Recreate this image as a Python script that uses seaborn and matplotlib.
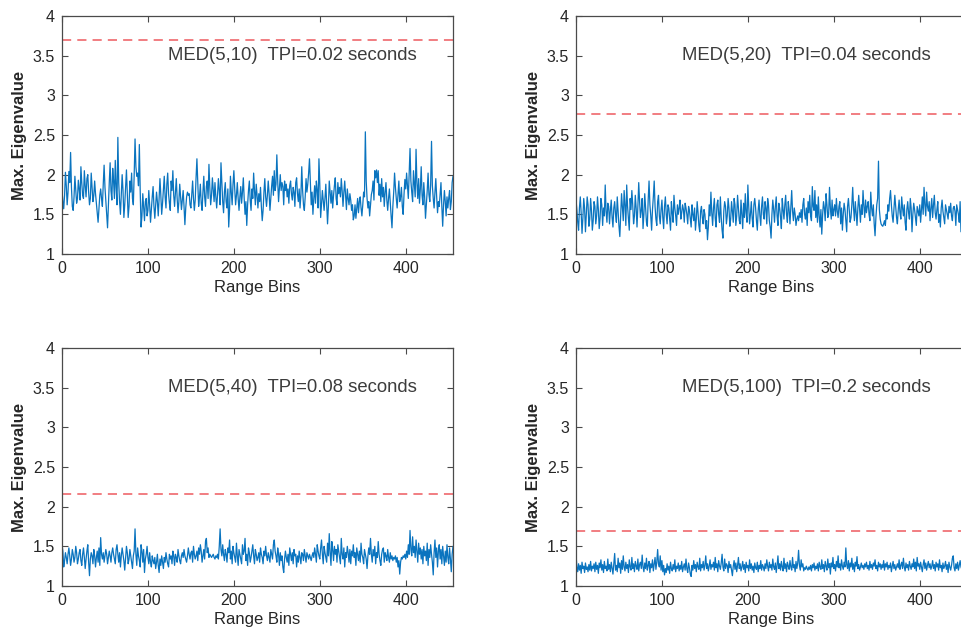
import numpy as np
import pandas as pd
import matplotlib
matplotlib.use("Agg")
import matplotlib.pyplot as plt
import seaborn as sns

# Maximum eigenvalue per range bin for four MED(M,N) configurations
eig_med_5_10 = [
    1.80, 1.66, 1.57, 1.74, 2.03, 1.86, 1.62, 1.78, 2.04, 1.90, 2.28, 1.84, 1.60, 1.55, 1.72, 1.98, 1.80, 1.64, 1.70, 1.93,
    1.82, 1.68, 2.10, 1.90, 1.74, 1.70, 2.05, 1.86, 1.72, 1.95, 2.00, 1.78, 1.62, 1.70, 2.02, 1.84, 1.66, 1.74, 1.92, 1.76,
    1.64, 1.52, 1.40, 1.56, 1.74, 1.82, 1.70, 1.60, 1.88, 2.12, 1.84, 1.66, 1.50, 1.33, 1.62, 1.90, 2.15, 1.80, 1.68, 2.08,
    1.92, 1.70, 2.18, 1.84, 1.62, 2.47, 1.90, 1.66, 1.50, 1.76, 2.00, 1.80, 1.46, 1.62, 1.85, 2.06, 1.74, 1.46, 1.60, 1.92,
    1.78, 2.02, 1.70, 1.62, 2.00, 2.45, 2.10, 1.98, 2.02, 1.86, 2.38, 1.80, 1.34, 1.48, 1.76, 1.58, 1.42, 1.66, 1.70, 1.48,
    1.55, 1.80, 1.62, 1.40, 1.56, 1.72, 1.85, 1.60, 1.45, 1.62, 1.78, 1.66, 1.48, 1.70, 1.95, 1.74, 1.50, 1.64, 1.82, 1.98,
    1.72, 1.58, 1.88, 2.02, 1.76, 1.64, 1.55, 1.92, 1.80, 2.05, 1.74, 1.60, 1.78, 1.95, 1.70, 1.52, 1.66, 1.88, 1.72, 1.56,
    1.68, 1.80, 1.60, 1.37, 1.58, 1.72, 1.78, 1.74, 1.76, 1.62, 1.58, 1.75, 1.92, 1.70, 1.55, 1.68, 1.96, 2.20, 1.88, 1.60,
    1.72, 1.88, 1.64, 1.55, 1.78, 1.98, 1.72, 1.60, 1.85, 1.92, 1.70, 2.13, 1.84, 1.62, 1.74, 1.96, 1.80, 1.66, 1.90, 1.72,
    1.58, 1.75, 1.95, 1.80, 1.62, 2.15, 1.90, 1.66, 1.52, 1.78, 1.90, 1.66, 1.58, 1.82, 1.34, 1.56, 1.98, 1.78, 1.62, 1.88,
    2.05, 1.82, 1.62, 1.74, 1.90, 1.70, 1.55, 1.72, 1.85, 1.64, 1.78, 1.96, 1.70, 1.50, 1.66, 1.36, 1.62, 1.80, 1.92, 1.68,
    1.55, 1.82, 1.70, 2.02, 1.80, 1.62, 1.88, 1.74, 1.58, 1.76, 1.66, 1.84, 1.60, 1.42, 1.55, 1.78, 1.95, 1.72, 1.60, 1.74,
    1.92, 1.76, 1.55, 1.70, 1.86, 1.98, 1.74, 2.05, 1.80, 1.88, 2.25, 1.92, 1.66, 1.82, 2.00, 1.80, 1.90, 1.85, 1.62, 1.92,
    1.80, 1.88, 1.72, 1.82, 1.64, 1.86, 1.92, 1.76, 1.68, 1.84, 1.78, 1.60, 1.90, 1.96, 1.76, 1.66, 1.82, 1.58, 1.74, 2.10,
    1.80, 1.62, 1.55, 1.72, 1.95, 1.78, 1.88, 2.02, 2.20, 1.90, 1.62, 1.78, 1.50, 1.70, 1.86, 1.64, 1.92, 1.80, 1.58, 2.20,
    1.88, 1.46, 1.62, 1.80, 1.68, 1.55, 1.70, 1.88, 1.62, 1.38, 1.60, 1.92, 1.78, 1.64, 1.80, 1.58, 1.74, 1.86, 1.96, 1.70,
    1.62, 1.90, 1.76, 1.84, 1.72, 1.95, 1.80, 1.60, 1.78, 1.92, 1.74, 1.56, 1.82, 1.70, 1.62, 1.76, 1.68, 1.55, 1.62, 1.43,
    1.48, 1.62, 1.45, 1.58, 1.70, 1.52, 1.66, 1.72, 1.58, 1.48, 1.62, 1.78, 1.72, 2.54, 1.92, 1.70, 1.58, 1.66, 1.48, 1.62,
    1.75, 1.80, 1.92, 1.68, 2.05, 1.96, 2.06, 1.90, 2.05, 1.74, 1.88, 1.66, 1.95, 1.72, 1.84, 1.60, 1.78, 1.90, 1.68, 1.55,
    1.70, 1.82, 1.64, 1.48, 1.33, 1.60, 1.78, 2.02, 1.84, 1.70, 1.58, 1.76, 1.92, 1.66, 1.72, 1.84, 1.60, 1.50, 1.75, 1.94,
    1.82, 2.02, 1.86, 1.70, 2.00, 2.33, 1.92, 1.78, 1.66, 2.05, 1.88, 1.72, 2.32, 1.90, 1.70, 1.95, 1.64, 1.82, 2.10, 1.74,
    1.62, 1.90, 1.72, 1.45, 1.62, 1.80, 2.02, 1.75, 1.66, 1.88, 2.42, 1.86, 1.70, 1.58, 1.78, 1.95, 1.72, 1.52, 1.66, 1.60,
    1.75, 1.90, 1.60, 1.35, 1.62, 1.80, 1.66, 1.48, 1.72, 1.58, 1.70, 1.80, 1.56, 1.66, 1.90, 1.98,
]

eig_med_5_20 = [
    1.68, 1.56, 1.40, 1.30, 1.58, 1.72, 1.52, 1.26, 1.45, 1.70, 1.58, 1.28, 1.50, 1.72, 1.62, 1.35, 1.44, 1.70, 1.55, 1.30,
    1.42, 1.66, 1.60, 1.38, 1.48, 1.72, 1.56, 1.32, 1.45, 1.70, 1.62, 1.36, 1.58, 1.48, 1.87, 1.54, 1.40, 1.64, 1.60, 1.38,
    1.55, 1.68, 1.46, 1.34, 1.58, 1.66, 1.50, 1.40, 1.72, 1.54, 1.35, 1.22, 1.48, 1.76, 1.58, 1.42, 1.80, 1.62, 1.36, 1.87,
    1.60, 1.44, 1.30, 1.70, 1.56, 1.80, 1.62, 1.38, 1.48, 1.74, 1.58, 1.34, 1.60, 1.90, 1.66, 1.46, 1.55, 1.70, 1.32, 1.50,
    1.76, 1.58, 1.40, 1.35, 1.68, 1.92, 1.62, 1.48, 1.30, 1.56, 1.72, 1.92, 1.60, 1.44, 1.36, 1.66, 1.74, 1.48, 1.38, 1.56,
    1.68, 1.46, 1.32, 1.60, 1.72, 1.50, 1.38, 1.62, 1.58, 1.44, 1.30, 1.66, 1.52, 1.40, 1.74, 1.58, 1.48, 1.36, 1.62, 1.50,
    1.58, 1.68, 1.44, 1.52, 1.62, 1.56, 1.40, 1.64, 1.58, 1.50, 1.38, 1.60, 1.55, 1.45, 1.34, 1.62, 1.50, 1.42, 1.58, 1.30,
    1.44, 1.66, 1.52, 1.36, 1.28, 1.54, 1.60, 1.46, 1.38, 1.56, 1.50, 1.32, 1.42, 1.18, 1.34, 1.62, 1.48, 1.78, 1.52, 1.36,
    1.58, 1.70, 1.45, 1.34, 1.62, 1.68, 1.50, 1.40, 1.72, 1.46, 1.30, 1.20, 1.54, 1.66, 1.60, 1.38, 1.48, 1.70, 1.58, 1.35,
    1.44, 1.66, 1.54, 1.40, 1.70, 1.62, 1.36, 1.48, 1.74, 1.58, 1.42, 1.38, 1.68, 1.50, 1.32, 1.64, 1.46, 1.76, 1.52, 1.40,
    1.87, 1.60, 1.38, 1.50, 1.66, 1.45, 1.34, 1.62, 1.70, 1.58, 1.42, 1.30, 1.55, 1.68, 1.48, 1.36, 1.60, 1.72, 1.50, 1.44,
    1.66, 1.58, 1.38, 1.70, 1.62, 1.42, 1.34, 1.20, 1.50, 1.68, 1.56, 1.40, 1.60, 1.72, 1.48, 1.36, 1.64, 1.58, 1.46, 1.32,
    1.70, 1.56, 1.44, 1.62, 1.74, 1.50, 1.40, 1.66, 1.56, 1.38, 1.60, 1.80, 1.54, 1.42, 1.58, 1.50, 1.36, 1.44, 1.48, 1.42,
    1.52, 1.46, 1.56, 1.40, 1.62, 1.70, 1.50, 1.44, 1.58, 1.36, 1.66, 1.52, 1.74, 1.48, 1.42, 1.85, 1.60, 1.55, 1.80, 1.46,
    1.62, 1.40, 1.72, 1.48, 1.34, 1.56, 1.25, 1.50, 1.66, 1.58, 1.42, 1.76, 1.62, 1.46, 1.50, 1.84, 1.58, 1.44, 1.68, 1.48,
    1.56, 1.62, 1.48, 1.70, 1.54, 1.46, 1.60, 1.66, 1.38, 1.58, 1.30, 1.50, 1.64, 1.56, 1.42, 1.28, 1.60, 1.70, 1.54, 1.40,
    1.46, 1.62, 1.84, 1.58, 1.42, 1.66, 1.52, 1.36, 1.58, 1.74, 1.56, 1.40, 1.62, 1.50, 1.80, 1.60, 1.46, 1.68, 1.52, 1.60,
    1.66, 1.50, 1.42, 1.78, 1.58, 1.48, 1.62, 1.38, 1.23, 1.46, 1.62, 1.70, 2.17, 1.56, 1.44, 1.38, 1.36, 1.35, 1.38, 1.42,
    1.36, 1.50, 1.44, 1.62, 1.54, 1.70, 1.80, 1.62, 1.48, 1.40, 1.58, 1.74, 1.60, 1.46, 1.38, 1.56, 1.68, 1.52, 1.44, 1.72,
    1.58, 1.48, 1.62, 1.40, 1.30, 1.56, 1.66, 1.52, 1.44, 1.70, 1.58, 1.28, 1.50, 1.64, 1.56, 1.46, 1.36, 1.60, 1.54, 1.48,
    1.62, 1.40, 1.56, 1.72, 1.50, 1.84, 1.62, 1.48, 1.78, 1.60, 1.54, 1.66, 1.42, 1.58, 1.70, 1.46, 1.62, 1.74, 1.52, 1.44,
    1.56, 1.66, 1.40, 1.50, 1.34, 1.58, 1.68, 1.54, 1.46, 1.38, 1.62, 1.56, 1.50, 1.44, 1.60, 1.52, 1.64, 1.48, 1.42, 1.58,
    1.60, 1.54, 1.36, 1.62, 1.56, 1.50, 1.40, 1.66, 1.28, 1.62, 1.56, 1.48, 1.40, 1.64, 1.30, 1.58,
]

eig_med_5_40 = [
    1.52, 1.44, 1.24, 1.32, 1.42, 1.36, 1.28, 1.40, 1.48, 1.38, 1.26, 1.34, 1.46, 1.40, 1.30, 1.36, 1.50, 1.42, 1.28, 1.34,
    1.42, 1.46, 1.32, 1.26, 1.40, 1.48, 1.36, 1.22, 1.34, 1.44, 1.52, 1.30, 1.13, 1.34, 1.42, 1.38, 1.28, 1.46, 1.38, 1.24,
    1.36, 1.44, 1.30, 1.48, 1.26, 1.61, 1.40, 1.34, 1.42, 1.30, 1.38, 1.46, 1.40, 1.28, 1.36, 1.44, 1.38, 1.30, 1.42, 1.48,
    1.40, 1.34, 1.28, 1.46, 1.52, 1.40, 1.30, 1.42, 1.24, 1.38, 1.48, 1.40, 1.32, 1.20, 1.36, 1.50, 1.42, 1.28, 1.34, 1.46,
    1.38, 1.30, 1.22, 1.38, 1.44, 1.72, 1.40, 1.26, 1.48, 1.38, 1.32, 1.24, 1.52, 1.44, 1.30, 1.46, 1.17, 1.34, 1.40, 1.50,
    1.36, 1.28, 1.42, 1.30, 1.24, 1.38, 1.32, 1.28, 1.36, 1.22, 1.30, 1.40, 1.26, 1.17, 1.34, 1.26, 1.38, 1.30, 1.22, 1.36,
    1.30, 1.42, 1.34, 1.28, 1.24, 1.40, 1.34, 1.38, 1.28, 1.44, 1.38, 1.26, 1.40, 1.36, 1.30, 1.46, 1.38, 1.32, 1.28, 1.38,
    1.42, 1.36, 1.46, 1.38, 1.34, 1.30, 1.38, 1.48, 1.40, 1.34, 1.42, 1.44, 1.30, 1.50, 1.40, 1.34, 1.38, 1.44, 1.32, 1.48,
    1.40, 1.52, 1.44, 1.30, 1.38, 1.46, 1.34, 1.56, 1.60, 1.42, 1.48, 1.36, 1.40, 1.38, 1.36, 1.38, 1.40, 1.36, 1.34, 1.38,
    1.36, 1.40, 1.34, 1.50, 1.72, 1.46, 1.38, 1.52, 1.40, 1.32, 1.46, 1.40, 1.30, 1.48, 1.42, 1.58, 1.34, 1.44, 1.28, 1.50,
    1.42, 1.36, 1.30, 1.54, 1.38, 1.26, 1.46, 1.40, 1.34, 1.28, 1.52, 1.40, 1.44, 1.60, 1.32, 1.40, 1.26, 1.48, 1.42, 1.30,
    1.36, 1.44, 1.52, 1.38, 1.28, 1.46, 1.40, 1.32, 1.36, 1.42, 1.30, 1.48, 1.40, 1.36, 1.28, 1.44, 1.38, 1.50, 1.38, 1.32,
    1.42, 1.36, 1.30, 1.46, 1.40, 1.34, 1.52, 1.58, 1.44, 1.38, 1.30, 1.48, 1.40, 1.26, 1.42, 1.32, 1.38, 1.24, 1.17, 1.34,
    1.44, 1.36, 1.30, 1.40, 1.26, 1.48, 1.40, 1.32, 1.42, 1.28, 1.46, 1.38, 1.40, 1.24, 1.38, 1.30, 1.44, 1.36, 1.28, 1.42,
    1.40, 1.32, 1.46, 1.38, 1.30, 1.42, 1.38, 1.34, 1.40, 1.36, 1.32, 1.38, 1.42, 1.36, 1.48, 1.40, 1.30, 1.52, 1.44, 1.38,
    1.34, 1.48, 1.58, 1.40, 1.28, 1.50, 1.42, 1.36, 1.30, 1.54, 1.38, 1.66, 1.42, 1.26, 1.56, 1.46, 1.32, 1.50, 1.40, 1.46,
    1.30, 1.52, 1.44, 1.36, 1.28, 1.60, 1.40, 1.34, 1.48, 1.24, 1.42, 1.36, 1.50, 1.42, 1.30, 1.46, 1.28, 1.44, 1.38, 1.52,
    1.36, 1.42, 1.26, 1.48, 1.40, 1.32, 1.44, 1.30, 1.54, 1.40, 1.36, 1.28, 1.46, 1.40, 1.34, 1.22, 1.38, 1.48, 1.40, 1.60,
    1.40, 1.30, 1.46, 1.38, 1.50, 1.28, 1.42, 1.36, 1.56, 1.40, 1.32, 1.26, 1.40, 1.46, 1.48, 1.30, 1.42, 1.38, 1.32, 1.46,
    1.36, 1.30, 1.42, 1.34, 1.38, 1.32, 1.36, 1.34, 1.38, 1.30, 1.36, 1.24, 1.32, 1.15, 1.30, 1.36, 1.34, 1.38, 1.36, 1.40,
    1.34, 1.44, 1.36, 1.52, 1.40, 1.70, 1.46, 1.38, 1.62, 1.42, 1.50, 1.36, 1.58, 1.44, 1.30, 1.54, 1.40, 1.48, 1.34, 1.46,
    1.28, 1.50, 1.38, 1.44, 1.32, 1.54, 1.26, 1.46, 1.36, 1.52, 1.40, 1.30, 1.14, 1.42, 1.58, 1.36, 1.48, 1.24, 1.44, 1.52,
    1.34, 1.46, 1.28, 1.50, 1.38, 1.26, 1.44, 1.30, 1.52, 1.36, 1.28, 1.48, 1.34, 1.18, 1.40, 1.50,
]

eig_med_5_100 = [
    1.40, 1.24, 1.18, 1.28, 1.20, 1.26, 1.16, 1.30, 1.22, 1.25, 1.17, 1.29, 1.21, 1.24, 1.18, 1.27, 1.20, 1.31, 1.19, 1.25,
    1.22, 1.28, 1.18, 1.30, 1.21, 1.26, 1.16, 1.29, 1.23, 1.33, 1.20, 1.27, 1.17, 1.31, 1.22, 1.25, 1.19, 1.34, 1.21, 1.27,
    1.18, 1.30, 1.22, 1.15, 1.28, 1.41, 1.20, 1.26, 1.18, 1.35, 1.23, 1.29, 1.16, 1.32, 1.21, 1.38, 1.24, 1.19, 1.30, 1.22,
    1.27, 1.17, 1.33, 1.24, 1.20, 1.36, 1.22, 1.28, 1.18, 1.31, 1.25, 1.21, 1.34, 1.19, 1.27, 1.30, 1.22, 1.39, 1.24, 1.18,
    1.29, 1.22, 1.35, 1.20, 1.26, 1.31, 1.17, 1.28, 1.23, 1.33, 1.19, 1.27, 1.36, 1.21, 1.30, 1.46, 1.28, 1.24, 1.38, 1.20,
    1.32, 1.18, 1.26, 1.14, 1.22, 1.17, 1.28, 1.20, 1.25, 1.16, 1.30, 1.22, 1.19, 1.27, 1.21, 1.33, 1.18, 1.25, 1.22, 1.29,
    1.19, 1.26, 1.21, 1.31, 1.18, 1.24, 1.28, 1.20, 1.34, 1.22, 1.17, 1.29, 1.23, 1.15, 1.12, 1.26, 1.20, 1.32, 1.22, 1.27,
    1.18, 1.30, 1.24, 1.21, 1.35, 1.19, 1.27, 1.23, 1.31, 1.20, 1.26, 1.38, 1.22, 1.28, 1.19, 1.25, 1.33, 1.21, 1.27, 1.24,
    1.30, 1.20, 1.36, 1.23, 1.28, 1.18, 1.32, 1.25, 1.21, 1.29, 1.40, 1.24, 1.19, 1.34, 1.22, 1.28, 1.26, 1.17, 1.31, 1.23,
    1.27, 1.20, 1.13, 1.25, 1.32, 1.21, 1.29, 1.18, 1.26, 1.36, 1.22, 1.28, 1.19, 1.24, 1.31, 1.21, 1.27, 1.17, 1.30, 1.23,
    1.26, 1.19, 1.33, 1.22, 1.28, 1.20, 1.25, 1.17, 1.29, 1.23, 1.21, 1.30, 1.18, 1.26, 1.22, 1.32, 1.20, 1.27, 1.24, 1.19,
    1.28, 1.22, 1.33, 1.25, 1.19, 1.30, 1.23, 1.27, 1.20, 1.34, 1.24, 1.21, 1.29, 1.17, 1.26, 1.38, 1.22, 1.28, 1.20, 1.31,
    1.24, 1.19, 1.35, 1.22, 1.28, 1.18, 1.30, 1.25, 1.21, 1.32, 1.24, 1.20, 1.36, 1.23, 1.27, 1.18, 1.31, 1.22, 1.29, 1.45,
    1.26, 1.20, 1.33, 1.24, 1.28, 1.19, 1.23, 1.21, 1.25, 1.22, 1.20, 1.24, 1.21, 1.26, 1.19, 1.27, 1.23, 1.29, 1.20, 1.25,
    1.22, 1.28, 1.19, 1.30, 1.24, 1.21, 1.33, 1.22, 1.27, 1.18, 1.31, 1.25, 1.20, 1.34, 1.23, 1.28, 1.15, 1.29, 1.24, 1.36,
    1.22, 1.27, 1.19, 1.31, 1.24, 1.38, 1.23, 1.28, 1.20, 1.33, 1.25, 1.21, 1.30, 1.24, 1.48, 1.27, 1.22, 1.32, 1.19, 1.29,
    1.24, 1.35, 1.21, 1.28, 1.18, 1.30, 1.25, 1.37, 1.22, 1.27, 1.20, 1.24, 1.29, 1.23, 1.26, 1.21, 1.28, 1.24, 1.30, 1.22,
    1.26, 1.20, 1.31, 1.23, 1.27, 1.21, 1.29, 1.25, 1.33, 1.22, 1.26, 1.19, 1.30, 1.24, 1.28, 1.21, 1.27, 1.23, 1.32, 1.20,
    1.28, 1.24, 1.30, 1.21, 1.26, 1.23, 1.29, 1.18, 1.25, 1.31, 1.22, 1.27, 1.20, 1.24, 1.28, 1.23, 1.33, 1.21, 1.26, 1.30,
    1.22, 1.35, 1.24, 1.19, 1.29, 1.23, 1.27, 1.20, 1.31, 1.25, 1.21, 1.28, 1.24, 1.34, 1.22, 1.30, 1.19, 1.36, 1.25, 1.28,
    1.21, 1.30, 1.24, 1.18, 1.27, 1.33, 1.22, 1.29, 1.20, 1.26, 1.31, 1.23, 1.28, 1.21, 1.25, 1.32, 1.22, 1.27, 1.19, 1.30,
    1.24, 1.28, 1.20, 1.33, 1.23, 1.26, 1.18, 1.29, 1.22, 1.25, 1.31, 1.21, 1.27, 1.17, 1.30, 1.24, 1.20, 1.26, 1.35, 1.38,
    1.23, 1.19, 1.28, 1.22, 1.30, 1.20, 1.26, 1.32, 1.24, 1.21, 1.29, 1.18, 1.27, 1.23, 1.36, 1.22,
]

series = [eig_med_5_10, eig_med_5_20, eig_med_5_40, eig_med_5_100]
thresholds = [3.70, 2.76, 2.16, 1.69]
panel_titles = [
    "MED(5,10)  TPI=0.02 seconds",
    "MED(5,20)  TPI=0.04 seconds",
    "MED(5,40)  TPI=0.08 seconds",
    "MED(5,100)  TPI=0.2 seconds",
]
x_ticks = [0, 100, 200, 300, 400]
y_ticks = [1, 1.5, 2, 2.5, 3, 3.5, 4]
y_tick_labels = ["1", "1.5", "2", "2.5", "3", "3.5", "4"]

sns.set_theme(style="ticks")
plt.rcParams["font.family"] = ["Liberation Sans", "DejaVu Sans"]

W, H = 961, 636
fig = plt.figure(figsize=(W / 100, H / 100), dpi=100)
fig.patch.set_facecolor("white")

ax_w, ax_h = 391, 238
origins = [(62, 16), (576, 16), (62, 348), (576, 348)]

line_color = "#0a74bf"
thr_color = "#EE5A5F"
frame_color = "#4a4a4a"
text_color = "#3c3c3c"

for i, (ox, oy) in enumerate(origins):
    ax = fig.add_axes([ox / W, 1 - (oy + ax_h) / H, ax_w / W, ax_h / H])
    vals = series[i]
    df = pd.DataFrame({"bin": np.arange(len(vals)), "eig": vals})
    sns.lineplot(data=df, x="bin", y="eig", ax=ax, color=line_color,
                 linewidth=0.9, estimator=None)
    ax.axhline(thresholds[i], color=thr_color, linestyle=(0, (6, 4)), linewidth=1.1)
    ax.set_xlim(0, 455)
    ax.set_ylim(1, 4)
    ax.set_xticks(x_ticks)
    ax.set_xticklabels([str(t) for t in x_ticks])
    ax.set_yticks(y_ticks)
    ax.set_yticklabels(y_tick_labels)
    ax.tick_params(direction="in", length=4, width=0.8, colors=frame_color,
                   labelcolor="#262626", labelsize=11.5, top=True, right=True, pad=5)
    for sp in ax.spines.values():
        sp.set_visible(True)
        sp.set_color(frame_color)
        sp.set_linewidth(0.9)
    ax.set_xlabel("Range Bins", fontsize=12, color="#262626", labelpad=3)
    ax.set_ylabel("Max. Eigenvalue", fontsize=12, fontweight="bold",
                  color="#262626", labelpad=4)
    ax.text(123, 3.5, panel_titles[i], fontsize=13.3, color=text_color,
            ha="left", va="center")
    ax.grid(False)

fig.savefig("out.png", dpi=100, facecolor="white")
